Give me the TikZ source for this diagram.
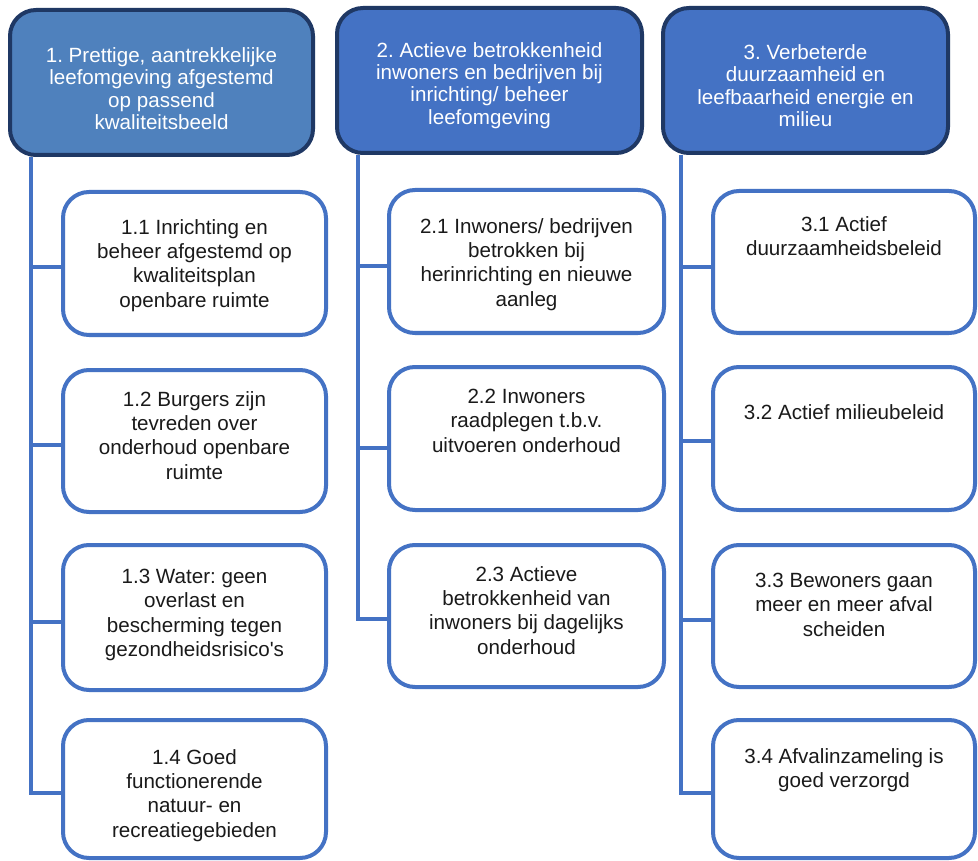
\documentclass[tikz,border=0pt]{standalone}
\usepackage{fontspec}
\setmainfont{Liberation Sans}
\usetikzlibrary{calc}
\definecolor{hdrA}{HTML}{4F81BD}
\definecolor{hdrB}{HTML}{4472C4}
\definecolor{navy}{HTML}{1F3864}
\definecolor{lineblue}{HTML}{4472C4}
\definecolor{txtc}{HTML}{1A1A1A}
\frenchspacing
\begin{document}
\begin{tikzpicture}[x=1pt,y=-1pt,
  hdr/.style={draw=navy, line width=4pt, rounded corners=26pt, inner sep=0pt},
  hdrtxt/.style={text=white, align=center, inner sep=0pt, font=\fontsize{20.6}{22.3}\selectfont\frenchspacing},
  cbox/.style={draw=lineblue, fill=white, line width=4pt, rounded corners=26pt, inner sep=0pt},
  btxt/.style={text=txtc, align=center, inner sep=0pt, anchor=north, font=\fontsize{20.6}{24.4}\selectfont\frenchspacing},
  conn/.style={draw=lineblue, line width=4pt}]
\useasboundingbox[fill=white] (0,0) rectangle (978,861);

% headers
\node[hdr, fill=hdrA, minimum width=303pt, minimum height=145pt] (h1) at (161.5,82.5) {};
\node[hdr, fill=hdrB, minimum width=305pt, minimum height=145pt] (h2) at (489.5,80.5) {};
\node[hdr, fill=hdrB, minimum width=285pt, minimum height=145pt] (h3) at (805.5,80.5) {};

\node[hdrtxt] (ht1) at ([yshift=-6pt]h1.center) {1. Prettige, aantrekkelijke\\leefomgeving afgestemd\\op passend\\kwaliteitsbeeld};
\node[hdrtxt] (ht2) at ([yshift=-5pt]h2.center) {2. Actieve betrokkenheid\\inwoners en bedrijven bij\\inrichting/ beheer\\leefomgeving};
\node[hdrtxt] (ht3) at ([yshift=-5pt]h3.center) {3. Verbeterde\\duurzaamheid en\\leefbaarheid energie en\\milieu};

% children column 1
\node[cbox, minimum width=263pt, minimum height=143pt] (c11) at (194.5,263.5) {};
\node[cbox, minimum width=263pt, minimum height=142pt] (c12) at (194.5,441) {};
\node[cbox, minimum width=263pt, minimum height=145pt] (c13) at (194.5,617.5) {};
\node[cbox, minimum width=263pt, minimum height=138pt] (c14) at (194.5,789) {};
% column 2
\node[cbox, minimum width=275pt, minimum height=143pt] (c21) at (526.5,261.5) {};
\node[cbox, minimum width=275pt, minimum height=143pt] (c22) at (526.5,438.5) {};
\node[cbox, minimum width=275pt, minimum height=142pt] (c23) at (526.5,616) {};
% column 3
\node[cbox, minimum width=262pt, minimum height=142pt] (c31) at (844,262) {};
\node[cbox, minimum width=262pt, minimum height=143pt] (c32) at (844,438.5) {};
\node[cbox, minimum width=262pt, minimum height=142pt] (c33) at (844,616) {};
\node[cbox, minimum width=262pt, minimum height=138pt] (c34) at (844,789) {};

% texts
\node[btxt] (t11) at ([yshift=-29pt]c11.north) {1.1 Inrichting en\\beheer afgestemd op\\kwaliteitsplan\\openbare ruimte};
\node[btxt] (t12) at ([yshift=-23pt]c12.north) {1.2 Burgers zijn\\tevreden over\\onderhoud openbare\\ruimte};
\node[btxt] (t13) at ([yshift=-26pt]c13.north) {1.3 Water: geen\\overlast en\\bescherming tegen\\gezondheidsrisico\textquotesingle s};
\node[btxt] (t14) at ([yshift=-31pt]c14.north) {1.4 Goed\\functionerende\\natuur- en\\recreatiegebieden};
\node[btxt] (t21) at ([yshift=-30pt]c21.north) {2.1 Inwoners/ bedrijven\\betrokken bij\\herinrichting en nieuwe\\aanleg};
\node[btxt] (t22) at ([yshift=-24pt]c22.north) {2.2 Inwoners\\raadplegen t.b.v.\\uitvoeren onderhoud};
\node[btxt] (t23) at ([yshift=-23pt]c23.north) {2.3 Actieve\\betrokkenheid van\\inwoners bij dagelijks\\onderhoud};
\node[btxt] (t31) at ([yshift=-27pt]c31.north) {3.1 Actief\\duurzaamheidsbeleid};
\node[btxt] (t32) at ([yshift=-39pt]c32.north) {3.2 Actief milieubeleid};
\node[btxt] (t33) at ([yshift=-30pt]c33.north) {3.3 Bewoners gaan\\meer en meer afval\\scheiden};
\node[btxt] (t34) at ([yshift=-30pt]c34.north) {3.4 Afvalinzameling is\\goed verzorgd};

% trunk coordinates
\coordinate (v1) at ($(h1.south west)+(23,0)$);
\coordinate (v2) at ($(h2.south west)+(23,0)$);
\coordinate (v3) at ($(h3.south west)+(20,0)$);

% stub end points on the child boxes
\coordinate (s11) at ([yshift=-4pt]c11.west);
\coordinate (s12) at ([yshift=-4pt]c12.west);
\coordinate (s13) at ([yshift=-4pt]c13.west);
\coordinate (s14) at ([yshift=-4pt]c14.west);
\coordinate (s21) at ([yshift=-5pt]c21.west);
\coordinate (s22) at ([yshift=-9pt]c22.west);
\coordinate (s23) at ([yshift=-3pt]c23.west);
\coordinate (s31) at ([yshift=-5pt]c31.west);
\coordinate (s32) at ([yshift=-2pt]c32.west);
\coordinate (s33) at ([yshift=-4pt]c33.west);
\coordinate (s34) at ([yshift=-4pt]c34.west);

% connectors
\draw[conn] (v1) |- (s14);
\draw[conn] (v1 |- s11) -- (s11);
\draw[conn] (v1 |- s12) -- (s12);
\draw[conn] (v1 |- s13) -- (s13);

\draw[conn] (v2) |- (s23);
\draw[conn] (v2 |- s21) -- (s21);
\draw[conn] (v2 |- s22) -- (s22);

\draw[conn] (v3) |- (s34);
\draw[conn] (v3 |- s31) -- (s31);
\draw[conn] (v3 |- s32) -- (s32);
\draw[conn] (v3 |- s33) -- (s33);
\end{tikzpicture}
\end{document}
